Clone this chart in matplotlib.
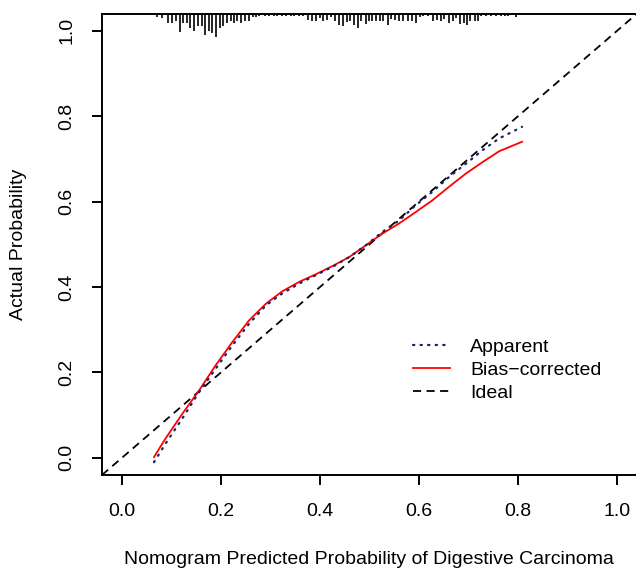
import matplotlib
matplotlib.use("Agg")
import matplotlib.pyplot as plt
import numpy as np

plt.rcParams['font.family'] = ['Liberation Sans', 'DejaVu Sans']

# Calibration curves
pred_x = [0.065, 0.088, 0.122, 0.156, 0.189, 0.223, 0.257, 0.291, 0.324, 0.358,
          0.392, 0.425, 0.459, 0.493, 0.526, 0.560, 0.594, 0.627, 0.661, 0.695,
          0.729, 0.762, 0.808]
apparent = [-0.010, 0.033, 0.092, 0.154, 0.208, 0.263, 0.314, 0.357, 0.385, 0.408,
            0.428, 0.447, 0.470, 0.498, 0.529, 0.556, 0.592, 0.623, 0.658, 0.689,
            0.721, 0.748, 0.775]
bias_corrected = [0.002, 0.045, 0.103, 0.158, 0.216, 0.271, 0.322, 0.361, 0.390, 0.412,
                  0.430, 0.449, 0.470, 0.498, 0.525, 0.549, 0.576, 0.603, 0.635, 0.666,
                  0.693, 0.718, 0.740]

# Spike histogram of predicted probabilities (top rug)
spike_x = [0.038, 0.048, 0.056, 0.065, 0.0715, 0.082, 0.094, 0.102, 0.109, 0.117,
           0.124, 0.131, 0.138, 0.146, 0.154, 0.161, 0.168, 0.176, 0.183, 0.190,
           0.198, 0.205, 0.213, 0.220, 0.227, 0.233, 0.241, 0.249, 0.257, 0.264,
           0.270, 0.277, 0.289, 0.297, 0.308, 0.314, 0.324, 0.332, 0.341, 0.348,
           0.357, 0.365, 0.375, 0.383, 0.392, 0.400, 0.407, 0.415, 0.422, 0.431,
           0.438, 0.446, 0.454, 0.461, 0.468, 0.476, 0.483, 0.492, 0.498, 0.506,
           0.514, 0.521, 0.528, 0.537, 0.544, 0.552, 0.560, 0.568, 0.577, 0.586,
           0.593, 0.601, 0.608, 0.618, 0.628, 0.636, 0.645, 0.651, 0.660, 0.668,
           0.675, 0.683, 0.690, 0.697, 0.703, 0.712, 0.719, 0.726, 0.736, 0.746,
           0.756, 0.766, 0.773, 0.780, 0.795]
spike_count = [1, 1, 1, 1, 4, 5, 10, 10, 8, 19,
               10, 10, 15, 18, 13, 13, 22, 18, 20, 24,
               15, 13, 10, 8, 10, 8, 10, 8, 8, 4,
               4, 3, 2, 3, 2, 3, 2, 3, 2, 3,
               2, 2, 7, 8, 8, 5, 8, 7, 4, 8,
               12, 13, 9, 8, 12, 15, 8, 11, 8, 8,
               8, 8, 8, 12, 6, 7, 8, 8, 8, 8,
               10, 4, 2, 2, 8, 7, 8, 6, 10, 8,
               5, 11, 10, 12, 8, 8, 8, 3, 2, 2,
               2, 3, 2, 3, 4]

x_ticks = [0.0, 0.2, 0.4, 0.6, 0.8, 1.0]
y_ticks = [0.0, 0.2, 0.4, 0.6, 0.8, 1.0]

W, H = 636, 569
FS = 14
fig = plt.figure(figsize=(W / 100, H / 100), dpi=100)
ax = fig.add_axes([102 / W, 1 - 475 / H, (637 - 102) / W, (475 - 13.6) / H])
ax.set_xlim(-0.04, 1.04)
ax.set_ylim(-0.04, 1.04)

lw = 1.3
ax.axline((0, 0), slope=1, color='black', lw=lw, ls=(0, (4.5, 3)), label='Ideal', zorder=2)
ax.plot(pred_x, bias_corrected, color='red', lw=lw, label='Bias\u2212corrected', zorder=3)
ax.plot(pred_x, apparent, color='#1c2260', lw=1.6, ls=(0, (0.6, 2.8)),
        dash_capstyle='round', label='Apparent', zorder=4)

# spike histogram hanging from the top
top = 1.04
max_len = 23 / 427.5
cmax = max(spike_count)
lens = np.array(spike_count) / cmax * max_len
ax.vlines(spike_x, top - lens, top, color='black', lw=1.2, zorder=5)

for s in ax.spines.values():
    s.set_linewidth(1.4)

ax.set_xticks(x_ticks)
ax.set_xticklabels([f"{t:.1f}" for t in x_ticks])
ax.set_yticks(y_ticks)
ax.set_yticklabels([f"{t:.1f}" for t in y_ticks], rotation=90, va='center')
ax.tick_params(axis='both', length=7, width=1.4, labelsize=FS, direction='out')
ax.tick_params(axis='x', pad=13)
ax.tick_params(axis='y', pad=12)

fig.text(369 / W, 1 - 559 / H, 'Nomogram Predicted Probability of Digestive Carcinoma',
         ha='center', va='center', fontsize=FS)
fig.text(19 / W, 1 - 244 / H, 'Actual Probability', rotation=90,
         ha='center', va='center', fontsize=FS)

handles, labels = ax.get_legend_handles_labels()
order = [labels.index('Apparent'), labels.index('Bias\u2212corrected'), labels.index('Ideal')]
leg = ax.legend([handles[i] for i in order], [labels[i] for i in order],
                loc='upper left', bbox_to_anchor=(413 / W, 1 - 338 / H),
                bbox_transform=fig.transFigure, frameon=False, fontsize=FS,
                handlelength=1.9, handletextpad=1.05, labelspacing=0.28,
                borderaxespad=0, borderpad=0)

fig.savefig('out.png', dpi=100)
